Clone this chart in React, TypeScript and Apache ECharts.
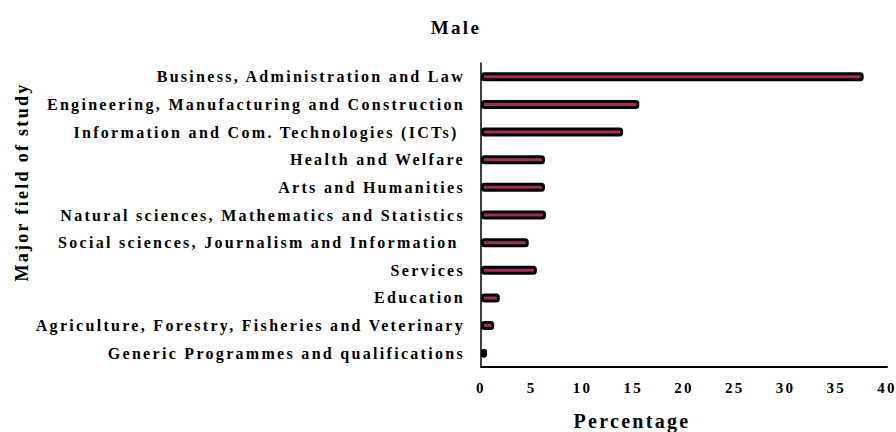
import React, { useEffect, useRef } from "react";
import * as echarts from "echarts";

const categories = [
  "Business, Administration and Law",
  "Engineering, Manufacturing and Construction",
  "Information and Com. Technologies (ICTs) ",
  "Health and Welfare",
  "Arts and Humanities",
  "Natural sciences, Mathematics and Statistics",
  "Social sciences, Journalism and Information ",
  "Services",
  "Education",
  "Agriculture, Forestry, Fisheries and Veterinary",
  "Generic Programmes and qualifications",
];
const values = [37.7, 15.6, 14.0, 6.3, 6.3, 6.4, 4.7, 5.5, 1.85, 1.3, 0.6];
const xTicks = [0, 5, 10, 15, 20, 25, 30, 35, 40];

const FONT = '"Liberation Serif", "Times New Roman", serif';

export default function App() {
  const ref = useRef<HTMLDivElement>(null);
  useEffect(() => {
    if (!ref.current) return;
    const chart = echarts.init(ref.current, undefined, { renderer: "svg" });
    chart.setOption({
      animation: false,
      backgroundColor: "#ffffff",
      title: {
        text: "Male",
        left: 451,
        top: 13,
        textAlign: "center",
        textStyle: { fontFamily: FONT, fontWeight: "bold", fontSize: 19, color: "#000" },
      },
      grid: {
        left: 481,
        right: 9,
        top: 63,
        bottom: 65,
        containLabel: false,
        outerBoundsMode: "none",
      },
      xAxis: {
        type: "value",
        min: xTicks[0],
        max: xTicks[xTicks.length - 1],
        interval: 5,
        axisLine: { show: true, lineStyle: { color: "#000", width: 2 } },
        axisTick: { show: false },
        splitLine: { show: false },
        axisLabel: {
          fontFamily: FONT,
          fontWeight: "bold",
          fontSize: 15,
          color: "#000",
          margin: 13,
        },
      },
      yAxis: {
        type: "category",
        data: categories,
        inverse: true,
        axisLine: { show: true, lineStyle: { color: "#000", width: 1.5 } },
        axisTick: { show: false },
        axisLabel: {
          fontFamily: FONT,
          fontWeight: "bold",
          fontSize: 16,
          color: "#000",
          margin: 16,
        },
      },
      graphic: [
        {
          type: "text",
          x: 22,
          y: 182,
          rotation: Math.PI / 2,
          style: {
            text: "Major field of study",
            font: `bold 18px ${FONT}`,
            fill: "#000",
            align: "center",
            verticalAlign: "middle",
          },
        },
        {
          type: "text",
          x: 632,
          y: 421,
          style: {
            text: "Percentage",
            font: `bold 20px ${FONT}`,
            fill: "#000",
            align: "center",
            verticalAlign: "middle",
          },
        },
      ],
      series: [
        {
          type: "bar",
          data: values,
          barWidth: 9,
          itemStyle: {
            color: "#9E3060",
            borderColor: "#000",
            borderWidth: 3,
            borderRadius: 2,
          },
        },
      ],
    });
    return () => chart.dispose();
  }, []);
  return (
    <>
      <style>{`#male-chart text { letter-spacing: 2.3px; }`}</style>
      <div
        id="male-chart"
        ref={ref}
        style={{ width: 896, height: 432, position: "fixed", left: 0, top: 0 }}
      />
    </>
  );
}
